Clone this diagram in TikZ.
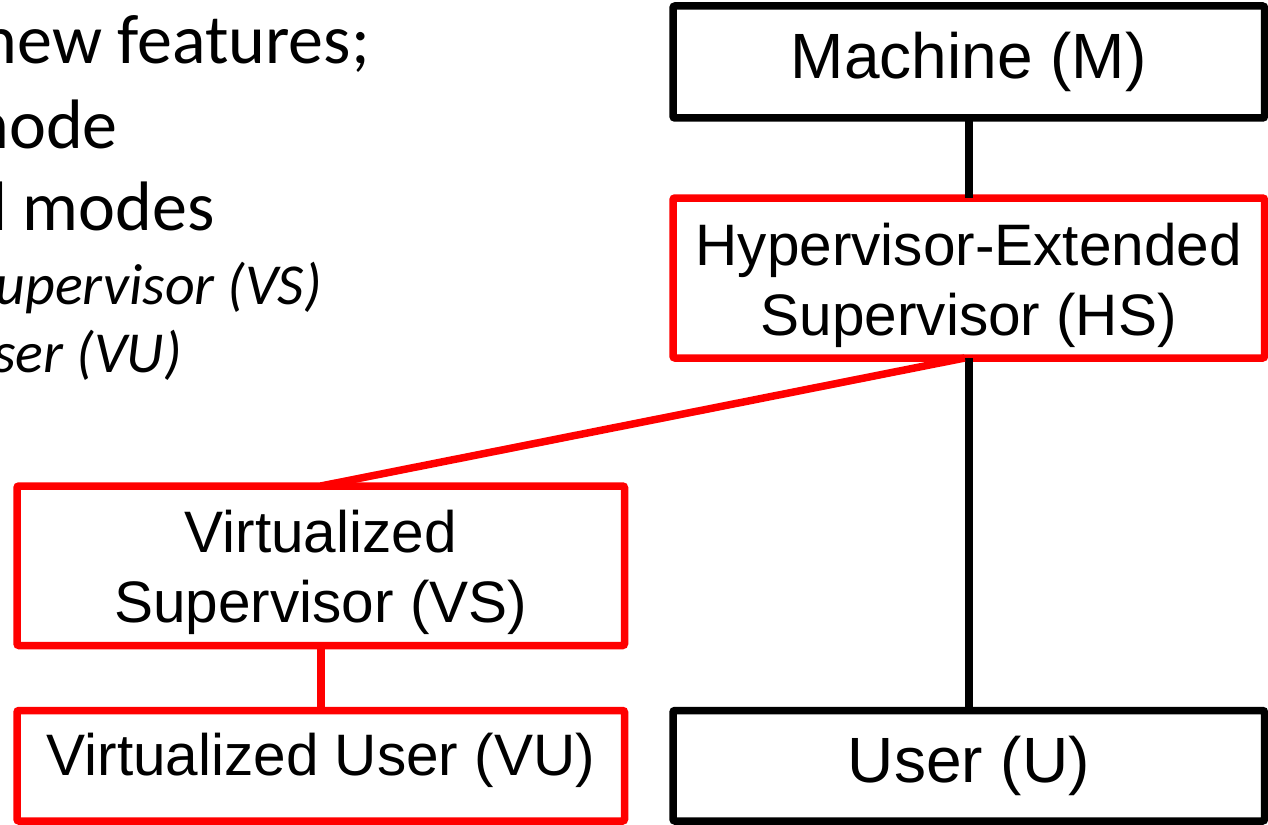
\documentclass[tikz,border=0pt]{standalone}
\usepackage{fontspec}
\setmainfont{Liberation Sans}
\newfontfamily\calib{Carlito}
\begin{document}
\begin{tikzpicture}[x=1pt,y=-1pt,
  modebox/.style={draw, line width=7.5pt, rounded corners=2pt, inner sep=0pt, outer sep=0pt,
    align=center, text=black},
  bigtxt/.style={font=\fontsize{64}{70}\selectfont},
  smalltxt/.style={font=\fontsize{58.5}{70}\selectfont},
  blk/.style={modebox, bigtxt, draw=black},
  rd/.style={modebox, smalltxt, draw=red},
  wide/.style={minimum width=591.5pt},
  lefttext/.style={anchor=base east, inner sep=0pt, font=\calib\fontsize{70}{80}\selectfont},
  subtext/.style={anchor=base east, inner sep=0pt, font=\calib\itshape\fontsize{58}{66}\selectfont},
  conn/.style={line width=7.5pt}
]
\useasboundingbox (0,0) rectangle (1268,824);
% left text (clipped)
\begin{scope}
\clip (0,0) rectangle (660,824);
\node[lefttext] (t1) at (370,64) {new features;};
\node[lefttext] (t2) at (118,148) {node};
\node[lefttext] (t3) at (215,230) {l modes};
\node[subtext] (t4) at (322,304) {upervisor (VS)};
\node[subtext] (t5) at (182,372) {ser (VU)};
\end{scope}
% boxes
\node[blk, wide, minimum height=112pt] (M) at (968.75,62) {Machine (M)};
\node[rd, wide, minimum height=160pt] (HS) at (968.75,278) {};
\node[smalltxt, align=center, inner sep=0pt, yshift=-7pt] (HSt) at (HS.center) {Hypervisor-Extended\\Supervisor (HS)};
\node[blk, wide, minimum height=110.5pt] (U) at (968.75,765.75) {User (U)};
\node[rd, minimum width=607.5pt, minimum height=159.5pt] (VS) at (320.75,565.75) {};
\node[smalltxt, align=center, inner sep=0pt, yshift=-7pt] (VSt) at (VS.center) {Virtualized\\Supervisor (VS)};
\node[rd, minimum width=607.5pt, minimum height=110.5pt] (VU) at (320.75,765.75) {};
\node[smalltxt, inner sep=0pt, yshift=5pt] (VUt) at (VU.center) {Virtualized User (VU)};
% connectors
\draw[conn, black] (M.south) -- (HS.north);
\draw[conn, black] (HS.south) -- (U.north);
\draw[conn, red] (HS.south) ++(-4,0) coordinate (hsl) (hsl) -- (VS.north);
\draw[conn, red] (VS.south) -- (VU.north);
\end{tikzpicture}
\end{document}
